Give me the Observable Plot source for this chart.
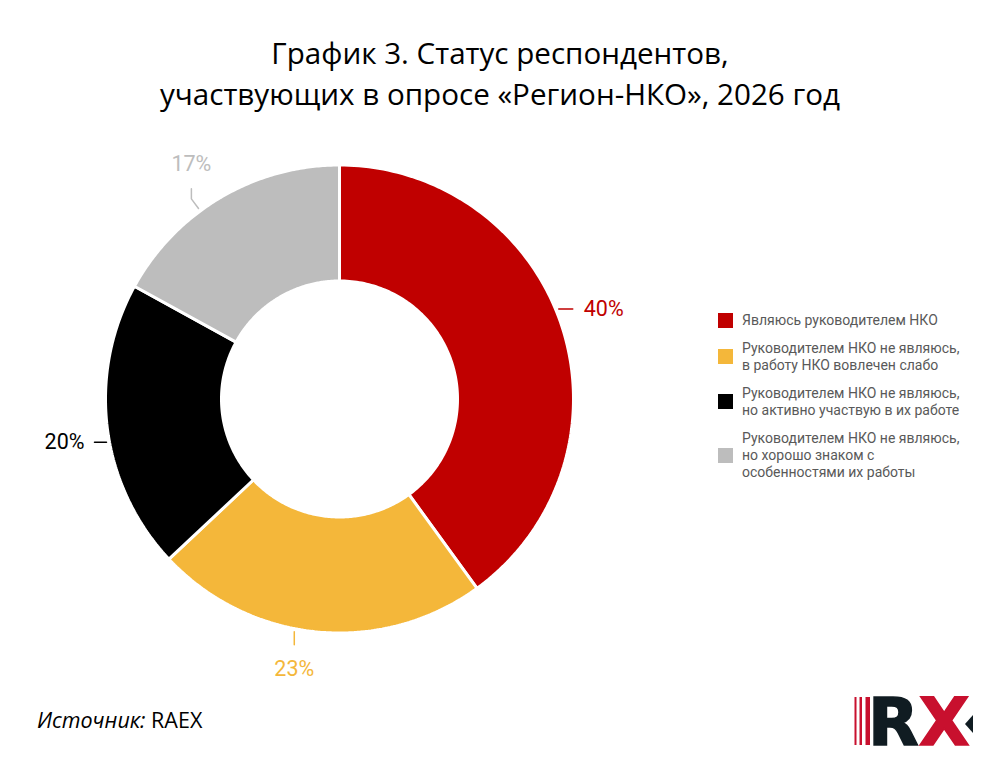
<!DOCTYPE html>
<html>
<head>
<meta charset="utf-8">
<script src="https://cdn.jsdelivr.net/npm/d3@7"></script>
<script src="https://cdn.jsdelivr.net/npm/@observablehq/plot@0.6"></script>
<style>
  html, body { margin: 0; padding: 0; background: #fff; }
  body { width: 1000px; height: 768px; position: relative; overflow: hidden; }
  #title { position: absolute; left: 0; top: 32px; width: 1000px; text-align: center;
           font-family: "Open Sans", sans-serif; font-size: 29.6px; line-height: 41px; color: #000; }
  #chart { position: absolute; left: 0; top: 120px; }
  #legend { position: absolute; left: 718px; top: 311.5px; display: flex; flex-direction: column; gap: 11px;
            font-family: Roboto, sans-serif; font-size: 14px; line-height: 17px; color: #595959; }
  .item { display: flex; align-items: center; }
  .sw { width: 15px; height: 15px; flex: none; margin-right: 9px; }
  #source { position: absolute; left: 37px; top: 705px; font-family: "Open Sans", sans-serif; font-size: 21.5px; color: #000; }
  #logo { position: absolute; left: 840px; top: 680px; }
</style>
</head>
<body>
<div id="title">График 3. Статус респондентов,<br>участвующих в опросе «Регион-НКО», 2026 год</div>
<div id="chart"></div>
<div id="legend"></div>
<div id="source"><i>Источник:</i> RAEX</div>
<svg id="logo" width="160" height="80" viewBox="0 0 160 80">
  <rect x="14.5" y="17" width="2" height="48" fill="#c8102e"/>
  <rect x="19.5" y="17" width="2.5" height="48" fill="#c8102e"/>
  <rect x="25.5" y="17" width="4.5" height="48" fill="#c8102e"/>
  <text x="28" y="65" font-family="DejaVu Sans, sans-serif" font-weight="bold" font-size="66" stroke-width="1.5"><tspan fill="#101c22" stroke="#101c22">R</tspan><tspan fill="#c8102e" stroke="#c8102e">X</tspan></text>
  <polygon points="133,35 133,53 125,44" fill="#101c22"/>
</svg>
<script>
// ---- data ----
const categories = [
  "Являюсь руководителем НКО",
  "Руководителем НКО не являюсь,\nв работу НКО вовлечен слабо",
  "Руководителем НКО не являюсь,\nно активно участвую в их работе",
  "Руководителем НКО не являюсь,\nно хорошо знаком с\nособенностями их работы"
];
const values = [40, 23, 20, 17];
const valueLabels = ["40%", "23%", "20%", "17%"];
const colors = ["#C00000", "#F4B73A", "#000000", "#BDBDBD"];
// small angular nudges (degrees) for the outside labels, as in the reference layout
const labelNudgeDeg = [-4.3, 5.6, -3.3, -5.9];

// ---- geometry ----
const R_OUT = 234, R_IN = 118;
const pie = d3.pie().sort(null).value(d => d)(values);

const arcRows = [];
pie.forEach((p, i) => {
  const n = 120;
  for (let k = 0; k <= n; k++) {
    const a = p.startAngle + (p.endAngle - p.startAngle) * k / n;
    arcRows.push({cat: categories[i], x: R_OUT * Math.sin(a), y: R_OUT * Math.cos(a)});
  }
  for (let k = n; k >= 0; k--) {
    const a = p.startAngle + (p.endAngle - p.startAngle) * k / n;
    arcRows.push({cat: categories[i], x: R_IN * Math.sin(a), y: R_IN * Math.cos(a)});
  }
});

const labels = [];
const leaders = [];
pie.forEach((p, i) => {
  const a = (p.startAngle + p.endAngle) / 2 + labelNudgeDeg[i] * Math.PI / 180;
  const c = Math.cos(a), s = Math.sin(a);
  const r1 = 237;
  const x1 = r1 * s, y1 = r1 * c;
  let pts, anchor, lx, ly;
  if (c > 0.7) {            // top: short radial piece, then vertical
    const x2 = 249 * s, y2 = 249 * c;
    pts = [[x1, y1], [x2, y2], [x2, y2 + 10]];
    anchor = "middle"; lx = x2; ly = y2 + 35;
  } else if (c < -0.7) {    // bottom: vertical
    pts = [[x1, y1], [x1, y1 - 13]];
    anchor = "middle"; lx = x1; ly = y1 - 37;
  } else if (s > 0) {       // right: horizontal
    pts = [[x1, y1], [x1 + 14, y1]];
    anchor = "start"; lx = x1 + 25; ly = y1;
  } else {                  // left: horizontal
    pts = [[x1, y1], [x1 - 12, y1]];
    anchor = "end"; lx = x1 - 22; ly = y1;
  }
  pts.forEach(([x, y]) => leaders.push({cat: categories[i], x, y}));
  labels.push({cat: categories[i], text: valueLabels[i], lx, ly, anchor});
});

const textOpts = {x: "lx", y: "ly", text: "text", fill: "cat", fontSize: 21.5, fontFamily: "Roboto, sans-serif"};

const chart = Plot.plot({
  width: 1000,
  height: 560,
  margin: 0,
  style: {background: "transparent", overflow: "visible"},
  x: {domain: [-339, 661], range: [0, 1000], axis: null},
  y: {domain: [278.5, -281.5], range: [0, 560], axis: null},
  color: {domain: categories, range: colors},
  marks: [
    Plot.line(arcRows, {x: "x", y: "y", z: "cat", fill: "cat", stroke: "white", strokeWidth: 3, strokeLinejoin: "miter", curve: "linear-closed"}),
    Plot.line(leaders, {x: "x", y: "y", z: "cat", stroke: "cat", strokeWidth: 1.5}),
    Plot.text(labels.filter(d => d.anchor === "start"), {...textOpts, textAnchor: "start"}),
    Plot.text(labels.filter(d => d.anchor === "end"), {...textOpts, textAnchor: "end"}),
    Plot.text(labels.filter(d => d.anchor === "middle"), {...textOpts, textAnchor: "middle"})
  ]
});
document.getElementById("chart").appendChild(chart);

// legend
const legend = d3.select("#legend");
categories.forEach((c, i) => {
  const item = legend.append("div").attr("class", "item");
  item.append("div").attr("class", "sw").style("background", colors[i]);
  item.append("div").html(c.split("\n").join("<br>"));
});
</script>
</body>
</html>
